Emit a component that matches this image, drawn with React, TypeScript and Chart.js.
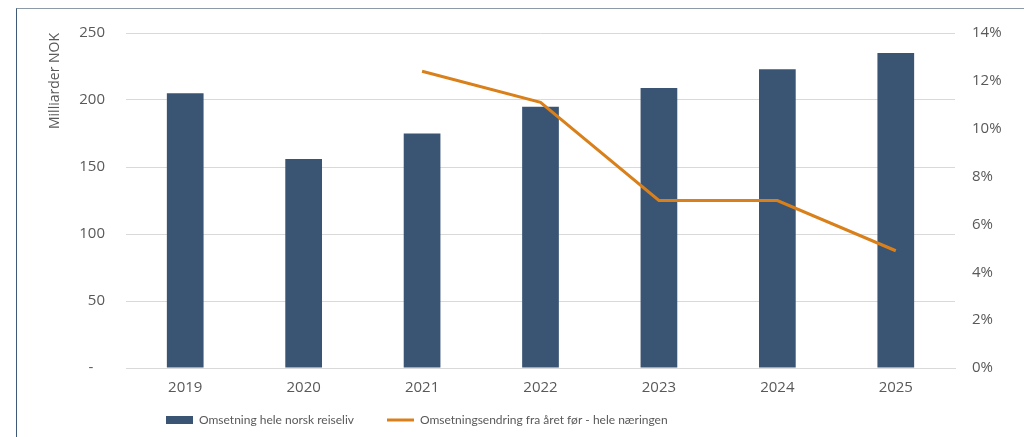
import React, { useEffect, useRef } from "react";
import { Chart, registerables } from "chart.js";

Chart.register(...registerables);

const years = ["2019", "2020", "2021", "2022", "2023", "2024", "2025"];
const omsetning = [205, 156, 175, 195, 209, 223, 235];
const endring = [null, null, 12.4, 11.1, 7.0, 7.0, 4.9];
const leftTicks = [0, 50, 100, 150, 200, 250];
const rightTicks = [0, 2, 4, 6, 8, 10, 12, 14];
const barLabel = "Omsetning hele norsk reiseliv";
const lineLabel = "Omsetningsendring fra året før - hele næringen";
const yTitle = "Milliarder NOK";

const BAR = "#3A5573";
const LINE = "#D9801B";
const TXT = "#595959";
const GRID = "#D9D9D9";
const FONT = "'Open Sans', 'Liberation Sans', sans-serif";
const LEG_FONT = "Lato, 'Liberation Sans', sans-serif";
const LEG_SIZE = 12;

const legendPlace = {
  id: "legendPlace",
  afterLayout(chart: any) {
    const lg = chart.legend;
    if (!lg) return;
    const pad = lg.options.labels.padding;
    lg.left = 149 - pad;
    lg.top = 411 - pad - LEG_SIZE / 2;
  },
};

export default function App() {
  const ref = useRef<HTMLCanvasElement>(null);
  useEffect(() => {
    if (!ref.current) return;
    const chart = new Chart(ref.current, {
      type: "bar",
      data: {
        labels: years,
        datasets: [
          {
            type: "bar",
            label: barLabel,
            data: omsetning,
            backgroundColor: BAR,
            borderWidth: 0,
            barPercentage: 0.31,
            categoryPercentage: 1,
            yAxisID: "y",
            order: 1,
            pointStyle: "rect",
          } as any,
          {
            type: "line",
            label: lineLabel,
            data: endring,
            borderColor: LINE,
            backgroundColor: LINE,
            borderWidth: 3,
            pointRadius: 0,
            pointHoverRadius: 0,
            pointStyle: "line",
            tension: 0,
            yAxisID: "y1",
            order: 0,
          } as any,
        ],
      },
      options: {
        animation: false,
        responsive: true,
        maintainAspectRatio: false,
        layout: { padding: { left: 14, right: 0, top: 24, bottom: 0 } },
        scales: {
          x: {
            grid: { display: false, drawTicks: false },
            border: { display: true, color: GRID },
            ticks: { color: TXT, font: { family: FONT, size: 15 }, padding: 11 },
            afterFit: (s: any) => {
              s.height = 27;
            },
          },
          y: {
            position: "left",
            min: 0,
            max: 250,
            afterBuildTicks: (s: any) => {
              s.ticks = leftTicks.map((v) => ({ value: v }));
            },
            afterFit: (s: any) => {
              s.width = 95;
              s.paddingTop = 0;
              s.paddingBottom = 0;
            },
            grid: { color: GRID, drawTicks: false },
            border: { display: false },
            ticks: {
              color: TXT,
              font: { family: FONT, size: 15 },
              padding: 21,
              callback: (v: any) => (Number(v) === 0 ? "-   " : String(v)),
            },
            title: {
              display: true,
              text: yTitle,
              align: "end",
              color: TXT,
              font: { family: FONT, size: 14 },
              padding: { top: 15.6, bottom: 0 },
            },
          },
          y1: {
            position: "right",
            min: 0,
            max: 14,
            afterBuildTicks: (s: any) => {
              s.ticks = rightTicks.map((v) => ({ value: v }));
            },
            afterFit: (s: any) => {
              s.width = 69;
              s.paddingTop = 0;
              s.paddingBottom = 0;
            },
            grid: { display: false, drawTicks: false },
            border: { display: false },
            ticks: {
              color: TXT,
              font: { family: FONT, size: 15 },
              padding: 17,
              callback: (v: any) => `${v}%`,
            },
          },
        },
        plugins: {
          legend: {
            position: "bottom",
            align: "start",
            maxHeight: 42,
            labels: {
              usePointStyle: true,
              pointStyleWidth: 27,
              boxHeight: 8,
              padding: 33,
              color: TXT,
              font: { family: LEG_FONT, size: LEG_SIZE },
              sort: (a: any, b: any) => a.datasetIndex - b.datasetIndex,
            },
          },
          tooltip: { enabled: false },
        },
      },
      plugins: [legendPlace],
    });
    return () => chart.destroy();
  }, []);

  return (
    <div
      style={{
        position: "fixed",
        left: 16,
        top: 8,
        width: 1008,
        height: 429,
        boxSizing: "border-box",
        borderTop: "1px solid #8C9AA8",
        borderLeft: "1px solid #3E5A78",
        background: "#fff",
      }}
    >
      <div style={{ position: "relative", width: 1007, height: 428 }}>
        <canvas ref={ref} />
      </div>
    </div>
  );
}
